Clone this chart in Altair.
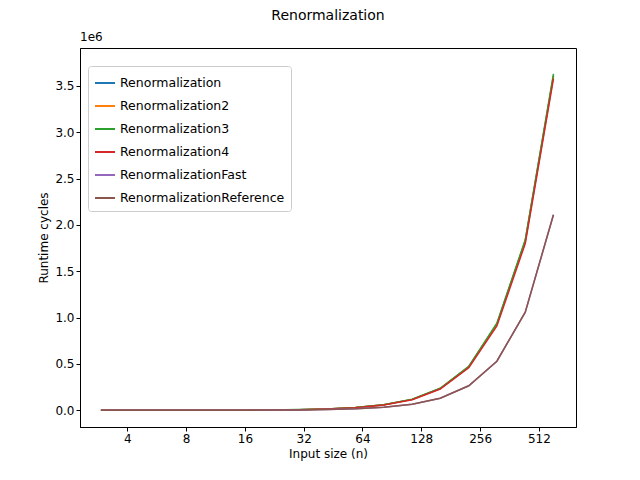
import altair as alt
import pandas as pd

n = [2.93, 4.09, 5.7, 8.0, 11.1, 15.5, 21.7, 30.3, 42.2, 59.0, 82.3, 115, 160, 224, 312, 436, 608]
renorm  = [0.00007, 0.00013, 0.00025, 0.0005, 0.001, 0.0019, 0.0038, 0.0075, 0.015, 0.030, 0.059, 0.118, 0.235, 0.47, 0.93, 1.83, 3.61]
renorm2 = [0.00007, 0.00013, 0.00025, 0.0005, 0.001, 0.0019, 0.0038, 0.0075, 0.015, 0.030, 0.059, 0.118, 0.234, 0.47, 0.93, 1.82, 3.60]
renorm3 = [0.00007, 0.00013, 0.00025, 0.0005, 0.001, 0.0019, 0.0038, 0.0076, 0.015, 0.030, 0.060, 0.120, 0.238, 0.475, 0.94, 1.84, 3.63]
renorm4 = [0.00007, 0.00013, 0.00025, 0.0005, 0.001, 0.0019, 0.0037, 0.0074, 0.015, 0.029, 0.058, 0.115, 0.23, 0.46, 0.91, 1.80, 3.58]
fast    = [0.00004, 0.00008, 0.00015, 0.0003, 0.0006, 0.0011, 0.0022, 0.0043, 0.0086, 0.017, 0.033, 0.066, 0.13, 0.265, 0.53, 1.06, 2.11]
ref     = [0.00004, 0.00008, 0.00015, 0.0003, 0.0006, 0.0011, 0.0022, 0.0043, 0.0086, 0.017, 0.033, 0.066, 0.13, 0.265, 0.53, 1.06, 2.11]
names = ["Renormalization", "Renormalization2", "Renormalization3", "Renormalization4",
         "RenormalizationFast", "RenormalizationReference"]
colors = ["#1f77b4", "#ff7f0e", "#2ca02c", "#d62728", "#9467bd", "#8c564b"]
xticks = [4, 8, 16, 32, 64, 128, 256, 512]

rows = []
for name, vals in zip(names, [renorm, renorm2, renorm3, renorm4, fast, ref]):
    for i, (a, b) in enumerate(zip(n, vals)):
        rows.append({"n": a, "y": b, "series": name, "order": i})
df = pd.DataFrame(rows)

font = "DejaVu Sans"
lines = alt.Chart(df).mark_line(strokeWidth=1.5, clip=True).encode(
    x=alt.X("n:Q", scale=alt.Scale(type="log", base=2, domain=[2.29, 793], nice=False),
            axis=alt.Axis(values=xticks, format="d", title="Input size (n)", grid=False,
                          labelFlush=False, titlePadding=4)),
    y=alt.Y("y:Q", scale=alt.Scale(domain=[-0.18, 3.91], nice=False, zero=False),
            axis=alt.Axis(values=[0, 0.5, 1, 1.5, 2, 2.5, 3, 3.5], format=".1f",
                          title="Runtime cycles", grid=False)),
    color=alt.Color("series:N", scale=alt.Scale(domain=names, range=colors),
                    legend=alt.Legend(title=None, orient="none", legendX=8, legendY=18,
                                      symbolType="stroke", symbolStrokeWidth=2, symbolSize=400,
                                      labelFontSize=12.5, labelFont=font, rowPadding=5,
                                      labelLimit=0,
                                      strokeColor="#cccccc", fillColor="white", padding=6,
                                      cornerRadius=3)),
    order="order:Q",
)
exp = alt.Chart(pd.DataFrame({"t": ["1e6"]})).mark_text(
    font=font, fontSize=12, align="left", baseline="bottom").encode(
    text="t:N", x=alt.value(0), y=alt.value(-4))

chart = alt.layer(lines, exp).properties(
    width=496, height=379,
    title=alt.TitleParams("Renormalization", font=font, fontSize=14, fontWeight="normal", offset=8),
    autosize=alt.AutoSizeParams(type="none"),
    padding={"left": 72, "top": 40, "right": 56, "bottom": 45},
).configure_axis(
    labelFont=font, titleFont=font, labelFontSize=12, titleFontSize=12, titleFontWeight="normal",
    domainColor="black", tickColor="black", labelColor="black", titleColor="black",
    tickSize=4,
).configure_view(stroke="black", strokeWidth=1)

chart.save("out.html", embed_options={"renderer": "svg", "actions": False})
